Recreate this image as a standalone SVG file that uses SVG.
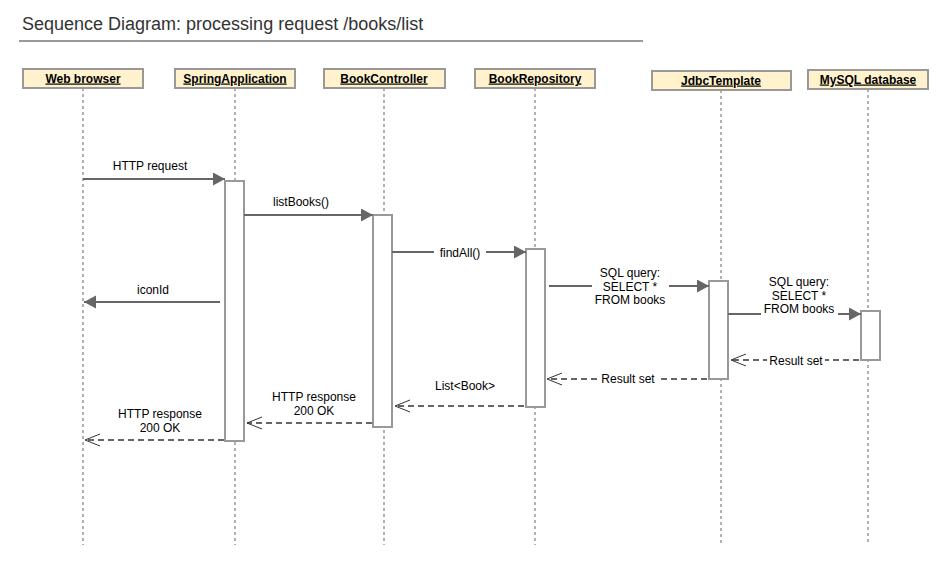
<svg xmlns="http://www.w3.org/2000/svg" width="950" height="565" viewBox="0 0 950 565">
<style>
  text { font-family: "Liberation Sans", Arial, sans-serif; fill: #000; }
  .title { font-size: 18px; fill: #333; }
  .hdr rect { fill: #fff2cc; stroke: #999; stroke-width: 2; }
  .hdr text { font-size: 12px; font-weight: bold; text-anchor: middle; text-decoration: underline; }
  .life { stroke: #999; stroke-width: 1.5; stroke-dasharray: 3 3; fill: none; }
  .act { fill: #fff; stroke: #999; stroke-width: 2; }
  .msg { stroke: #666; stroke-width: 2; fill: none; marker-end: url(#filled); }
  .ret { stroke: #666; stroke-width: 2; fill: none; stroke-dasharray: 6 4; marker-end: url(#open); }
  .lbl { font-size: 12px; text-anchor: middle; }
  .bg { fill: #fff; }
</style>
<defs>
  <marker id="filled" markerUnits="userSpaceOnUse" markerWidth="14" markerHeight="14" refX="12" refY="6.5" orient="auto">
    <path d="M0,0 L12,6.5 L0,13 z" fill="#666"/>
  </marker>
  <marker id="open" markerUnits="userSpaceOnUse" markerWidth="16" markerHeight="14" refX="15" refY="6.5" orient="auto">
    <path d="M0,0.5 L15,6.5 L0,12.5" fill="none" stroke="#333" stroke-width="1"/>
  </marker>
</defs>
<rect width="950" height="565" fill="#fff"/>
<text class="title" x="22" y="30">Sequence Diagram: processing request /books/list</text>
<line x1="19" y1="41" x2="643" y2="41" stroke="#999" stroke-width="2"/>

<g id="lifelines">
  <line class="life" x1="83" y1="88" x2="83" y2="545"/>
  <line class="life" x1="235" y1="88" x2="235" y2="545"/>
  <line class="life" x1="384" y1="88" x2="384" y2="545"/>
  <line class="life" x1="535" y1="88" x2="535" y2="545"/>
  <line class="life" x1="721" y1="90" x2="721" y2="545"/>
  <line class="life" x1="868" y1="89" x2="868" y2="545"/>
</g>

<g id="web-browser" class="hdr"><rect x="23" y="69" width="120" height="19"/><text x="83" y="82.5">Web browser</text></g>
<g id="spring-application" class="hdr"><rect x="175" y="69" width="120" height="19"/><text x="235" y="82.5">SpringApplication</text></g>
<g id="book-controller" class="hdr"><rect x="324" y="69" width="121" height="19"/><text x="384" y="82.5">BookController</text></g>
<g id="book-repository" class="hdr"><rect x="475" y="69" width="120" height="19"/><text x="535" y="82.5">BookRepository</text></g>
<g id="jdbc-template" class="hdr"><rect x="652" y="71" width="139" height="19"/><text x="721" y="84.5">JdbcTemplate</text></g>
<g id="mysql-database" class="hdr"><rect x="808" y="70" width="120" height="19"/><text x="868" y="83.5">MySQL database</text></g>

<g id="activations">
  <rect id="act-spring" class="act" x="225" y="181" width="19" height="260"/>
  <rect id="act-controller" class="act" x="373" y="215" width="19" height="212"/>
  <rect id="act-repository" class="act" x="526" y="249" width="19" height="158"/>
  <rect id="act-jdbc" class="act" x="709" y="281" width="19" height="98"/>
  <rect id="act-mysql" class="act" x="861" y="311" width="19" height="49"/>
</g>

<g id="connectors">
  <line class="msg" x1="83" y1="179" x2="225" y2="179"/>
  <text class="lbl" x="150" y="169.5">HTTP request</text>

  <line class="msg" x1="244" y1="215" x2="373" y2="215"/>
  <text class="lbl" x="301" y="205.5">listBooks()</text>

  <line class="msg" x1="392" y1="252" x2="526" y2="252"/>
  <rect class="bg" x="434" y="244" width="52" height="15"/>
  <text class="lbl" x="460" y="256.5">findAll()</text>

  <line class="msg" x1="549" y1="286" x2="709" y2="286"/>
  <rect class="bg" x="592" y="266" width="77" height="40"/>
  <text class="lbl" x="630" y="277">SQL query:</text>
  <text class="lbl" x="630" y="290.5">SELECT *</text>
  <text class="lbl" x="630" y="304">FROM books</text>

  <line class="msg" x1="220" y1="302" x2="84" y2="302"/>
  <text class="lbl" x="153" y="293.5">iconId</text>

  <line class="msg" x1="728" y1="314" x2="861" y2="314"/>
  <rect class="bg" x="761" y="275" width="77" height="43"/>
  <text class="lbl" x="799" y="286">SQL query:</text>
  <text class="lbl" x="799" y="299.5">SELECT *</text>
  <text class="lbl" x="799" y="313">FROM books</text>

  <line class="ret" x1="859" y1="360" x2="731" y2="360"/>
  <rect class="bg" x="767" y="353" width="58" height="14"/>
  <text class="lbl" x="796" y="364.5">Result set</text>

  <line class="ret" x1="707" y1="379" x2="547" y2="379"/>
  <rect class="bg" x="598" y="372" width="60" height="14"/>
  <text class="lbl" x="628" y="383">Result set</text>

  <line class="ret" x1="524" y1="406" x2="395" y2="406"/>
  <text class="lbl" x="465" y="389.5">List&lt;Book&gt;</text>

  <line class="ret" x1="372" y1="423" x2="247" y2="423"/>
  <text class="lbl" x="314" y="401">HTTP response</text>
  <text class="lbl" x="314" y="415">200 OK</text>

  <line class="ret" x1="224" y1="440" x2="85" y2="440"/>
  <text class="lbl" x="160" y="417.5">HTTP response</text>
  <text class="lbl" x="160" y="431.5">200 OK</text>
</g>
</svg>
